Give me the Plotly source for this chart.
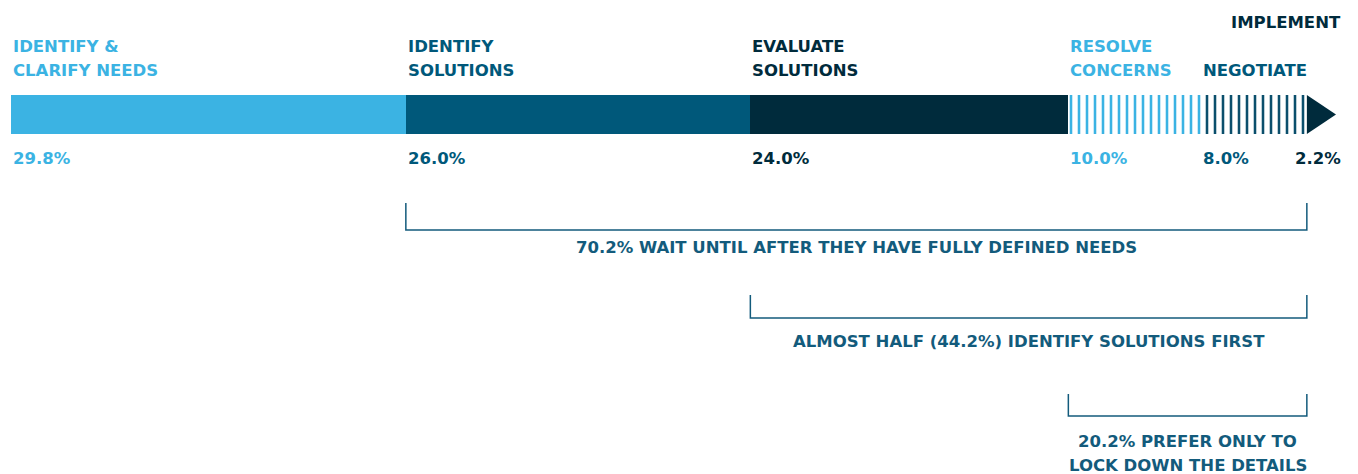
"""Buying-process stage timeline: where buyers want to engage."""

import plotly.graph_objects as go

# ---- data ----
STAGES = [
    "IDENTIFY &<br>CLARIFY NEEDS",
    "IDENTIFY<br>SOLUTIONS",
    "EVALUATE<br>SOLUTIONS",
    "RESOLVE<br>CONCERNS",
    "NEGOTIATE",
    "IMPLEMENT",
]
SHARES = [29.8, 26.0, 24.0, 10.0, 8.0, 2.2]
SHARE_LABELS = ["29.8%", "26.0%", "24.0%", "10.0%", "8.0%", "2.2%"]

BRACKET_FROM = [1, 2, 3]  # index of the first stage in each bracket
BRACKET_LABELS = [
    "70.2% WAIT UNTIL AFTER THEY HAVE FULLY DEFINED NEEDS",
    "ALMOST HALF (44.2%) IDENTIFY SOLUTIONS FIRST",
    "20.2% PREFER ONLY TO<br>LOCK DOWN THE DETAILS",
]

# ---- style ----
LIGHT = "#3bb3e3"
MID = "#00587a"
DARK = "#002b3c"
NOTE = "#135b7c"
FONT = "DejaVu Sans"

SEG_COLORS = [LIGHT, MID, DARK, LIGHT, "#0b4f6c", DARK]
TEXT_COLORS = [LIGHT, MID, DARK, LIGHT, MID, DARK]
STRIPED = [False, False, False, True, True, False]

BAR_Y, BAR_H = 114.5, 39
LINE1_Y, LINE2_Y, TOP_Y = 46, 70, 22
PCT_Y = 158
BRACKET_Y = [(203, 230, [247]), (295, 318, [341]), (394, 416, [441, 465])]

# page body has an 8px margin; y axis is laid out in page pixels
PAGE_PAD = 8

starts = [sum(SHARES[:i]) for i in range(len(SHARES))]
ends = [s + v for s, v in zip(starts, SHARES)]
end_x = ends[-1]

fig = go.Figure()

# bar segments (all but the final arrow)
for i in range(len(SHARES) - 1):
    marker = dict(color=SEG_COLORS[i], line=dict(width=0))
    if STRIPED[i]:
        marker = dict(
            color="white",
            line=dict(width=0),
            pattern=dict(shape="|", fgcolor=SEG_COLORS[i], bgcolor="white",
                         size=8, solidity=0.32, fillmode="replace"),
        )
    fig.add_trace(go.Bar(
        x=[SHARES[i]], base=[starts[i]], y=[BAR_Y], width=BAR_H,
        orientation="h", marker=marker, hoverinfo="skip", showlegend=False,
    ))

# final stage drawn as the arrow head
fig.add_trace(go.Scatter(
    x=[starts[-1], end_x, starts[-1], starts[-1]],
    y=[BAR_Y - BAR_H / 2, BAR_Y, BAR_Y + BAR_H / 2, BAR_Y - BAR_H / 2],
    fill="toself", fillcolor=SEG_COLORS[-1], mode="lines",
    line=dict(width=0, color=SEG_COLORS[-1]),
    hoverinfo="skip", showlegend=False,
))

annotations = []
font_kw = dict(family=FONT, size=16.5, weight="bold")

# stage labels and shares
for i, (name, pct) in enumerate(zip(STAGES, SHARE_LABELS)):
    last = i == len(STAGES) - 1
    x = end_x if last else starts[i]
    anchor = "right" if last else "left"
    shift = 7 if last else 0
    lines = name.split("<br>")
    ys = [TOP_Y] if last else [LINE1_Y, LINE2_Y][-len(lines):]
    for line, y in zip(lines, ys):
        annotations.append(dict(
            x=x, y=y, text=line, xanchor=anchor, yanchor="middle", xshift=shift,
            showarrow=False, font=dict(color=TEXT_COLORS[i], **font_kw),
        ))
    annotations.append(dict(
        x=x, y=PCT_Y, text=pct, xanchor=anchor, yanchor="middle", xshift=shift,
        showarrow=False, font=dict(color=TEXT_COLORS[i], **font_kw),
    ))

# brackets
for k, (first, label) in enumerate(zip(BRACKET_FROM, BRACKET_LABELS)):
    top, bottom, text_ys = BRACKET_Y[k]
    x0, x1 = starts[first], starts[-1]
    fig.add_trace(go.Scatter(
        x=[x0, x0, x1, x1], y=[top, bottom, bottom, top], mode="lines",
        line=dict(color=NOTE, width=1.5), hoverinfo="skip", showlegend=False,
    ))
    for line, y in zip(label.split("<br>"), text_ys):
        annotations.append(dict(
            x=(x0 + x1) / 2, y=y, text=line, xanchor="center", yanchor="middle",
            showarrow=False, font=dict(color=NOTE, **font_kw),
        ))

fig.update_layout(
    width=1358 - PAGE_PAD,
    height=474 - PAGE_PAD,
    margin=dict(l=11 - PAGE_PAD, r=22, t=0, b=0),
    plot_bgcolor="white",
    paper_bgcolor="white",
    barmode="overlay",
    bargap=0,
    annotations=annotations,
    xaxis=dict(range=[0, 100], visible=False, fixedrange=True),
    yaxis=dict(range=[474, PAGE_PAD], visible=False, fixedrange=True),
)

fig.write_html("out.html")
